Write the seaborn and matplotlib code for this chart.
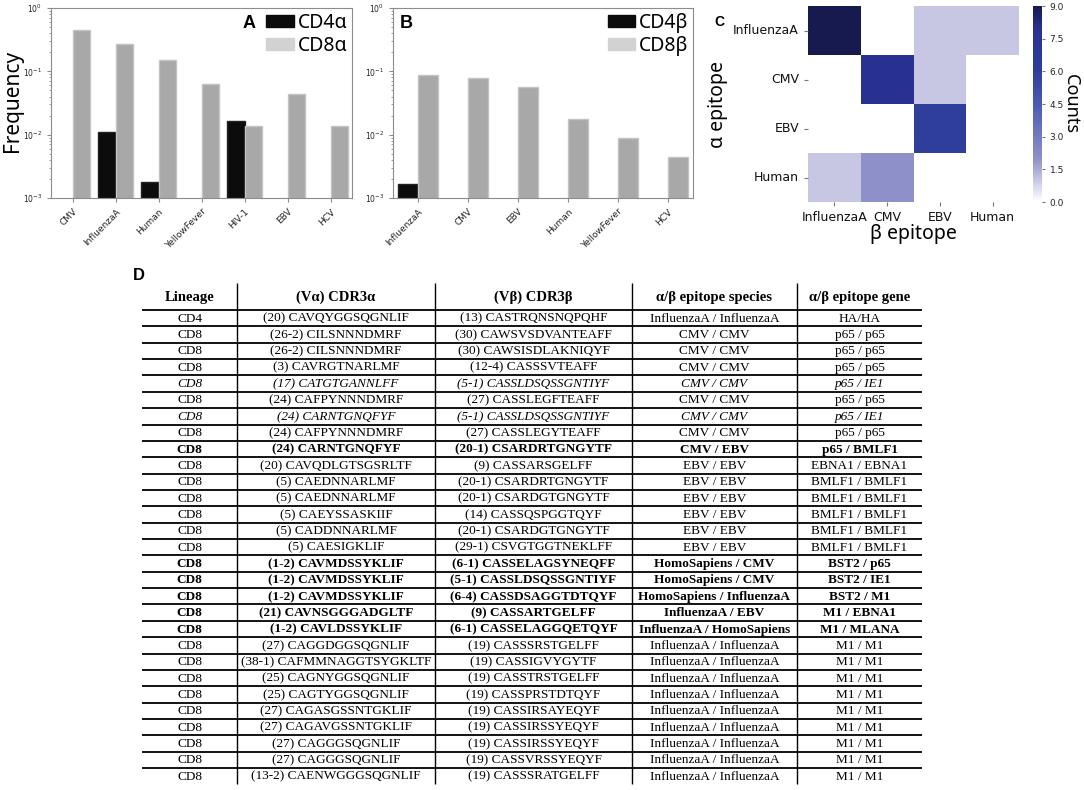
import numpy as np
import pandas as pd
import matplotlib
matplotlib.use('Agg')
import matplotlib.pyplot as plt
from matplotlib.patches import Patch
from matplotlib.colors import LinearSegmentedColormap
import seaborn as sns

nan = np.nan

# panel A: alpha chain epitope species frequencies
species_a = ['CMV', 'InfluenzaA', 'Human', 'YellowFever', 'HIV-1', 'EBV', 'HCV']
cd4_a = [nan, 0.0109, 0.00181, nan, 0.0164, nan, nan]
cd8_a = [0.443, 0.270, 0.153, 0.0624, 0.0136, 0.0444, 0.0136]

# panel B: beta chain epitope species frequencies
species_b = ['InfluenzaA', 'CMV', 'EBV', 'Human', 'YellowFever', 'HCV']
cd4_b = [0.00166, nan, nan, nan, nan, nan]
cd8_b = [0.0875, 0.0785, 0.0566, 0.0177, 0.00885, 0.00438]

# panel C: alpha vs beta epitope counts
epitopes = ['InfluenzaA', 'CMV', 'EBV', 'Human']
counts = [[9, 0, 1, 1],
          [0, 8, 1, 0],
          [0, 0, 6, 0],
          [1, 2, 0, 0]]

# panel D: table
header = ['Lineage', '(V\u03b1) CDR3\u03b1', '(V\u03b2) CDR3\u03b2',
          '\u03b1/\u03b2 epitope species', '\u03b1/\u03b2 epitope gene']
lineage = ['CD4'] + ['CD8'] * 28
cdr3a = ['(20) CAVQYGGSQGNLIF', '(26-2) CILSNNNDMRF', '(26-2) CILSNNNDMRF',
         '(3) CAVRGTNARLMF', '(17) CATGTGANNLFF', '(24) CAFPYNNNDMRF',
         '(24) CARNTGNQFYF', '(24) CAFPYNNNDMRF', '(24) CARNTGNQFYF',
         '(20) CAVQDLGTSGSRLTF', '(5) CAEDNNARLMF', '(5) CAEDNNARLMF',
         '(5) CAEYSSASKIIF', '(5) CADDNNARLMF', '(5) CAESIGKLIF',
         '(1-2) CAVMDSSYKLIF', '(1-2) CAVMDSSYKLIF', '(1-2) CAVMDSSYKLIF',
         '(21) CAVNSGGGADGLTF', '(1-2) CAVLDSSYKLIF', '(27) CAGGDGGSQGNLIF',
         '(38-1) CAFMMNAGGTSYGKLTF', '(25) CAGNYGGSQGNLIF', '(25) CAGTYGGSQGNLIF',
         '(27) CAGASGSSNTGKLIF', '(27) CAGAVGSSNTGKLIF', '(27) CAGGGSQGNLIF',
         '(27) CAGGGSQGNLIF', '(13-2) CAENWGGGSQGNLIF']
cdr3b = ['(13) CASTRQNSNQPQHF', '(30) CAWSVSDVANTEAFF', '(30) CAWSISDLAKNIQYF',
         '(12-4) CASSSVTEAFF', '(5-1) CASSLDSQSSGNTIYF', '(27) CASSLEGFTEAFF',
         '(5-1) CASSLDSQSSGNTIYF', '(27) CASSLEGYTEAFF', '(20-1) CSARDRTGNGYTF',
         '(9) CASSARSGELFF', '(20-1) CSARDRTGNGYTF', '(20-1) CSARDGTGNGYTF',
         '(14) CASSQSPGGTQYF', '(20-1) CSARDGTGNGYTF', '(29-1) CSVGTGGTNEKLFF',
         '(6-1) CASSELAGSYNEQFF', '(5-1) CASSLDSQSSGNTIYF', '(6-4) CASSDSAGGTDTQYF',
         '(9) CASSARTGELFF', '(6-1) CASSELAGGQETQYF', '(19) CASSSRSTGELFF',
         '(19) CASSIGVYGYTF', '(19) CASSTRSTGELFF', '(19) CASSPRSTDTQYF',
         '(19) CASSIRSAYEQYF', '(19) CASSIRSSYEQYF', '(19) CASSIRSSYEQYF',
         '(19) CASSVRSSYEQYF', '(19) CASSSRATGELFF']
ep_species = (['InfluenzaA / InfluenzaA'] + ['CMV / CMV'] * 7 + ['CMV / EBV']
              + ['EBV / EBV'] * 6
              + ['HomoSapiens / CMV', 'HomoSapiens / CMV', 'HomoSapiens / InfluenzaA',
                 'InfluenzaA / EBV', 'InfluenzaA / HomoSapiens']
              + ['InfluenzaA / InfluenzaA'] * 9)
ep_gene = (['HA/HA', 'p65 / p65', 'p65 / p65', 'p65 / p65', 'p65 / IE1', 'p65 / p65',
            'p65 / IE1', 'p65 / p65', 'p65 / BMLF1', 'EBNA1 / EBNA1']
           + ['BMLF1 / BMLF1'] * 5
           + ['BST2 / p65', 'BST2 / IE1', 'BST2 / M1', 'M1 / EBNA1', 'M1 / MLANA']
           + ['M1 / M1'] * 9)
italic_rows = [4, 6]
bold_rows = [8, 15, 16, 17, 18, 19]

W, H = 1084, 790
fig = plt.figure(figsize=(W / 100, H / 100), dpi=100)


def px_axes(x0, y0, x1, y1):
    return fig.add_axes([x0 / W, 1 - y1 / H, (x1 - x0) / W, (y1 - y0) / H])


big_font = 'Noto Sans'

# table first so it sits underneath
axt = px_axes(0, 0, W, H)
axt.set_xlim(0, W)
axt.set_ylim(H, 0)
axt.axis('off')

col_edges = [142, 237, 435, 632, 797, 922]
head_top, head_bot, row_h = 283, 310, 16.36
n_rows = len(lineage)
centers = [(col_edges[i] + col_edges[i + 1]) / 2 for i in range(5)]
for c, lab in zip(centers, header):
    axt.text(c, (head_top + head_bot) / 2 + 1, lab, ha='center', va='center',
             family='Liberation Serif', weight='bold', fontsize=10.5)
for i in range(n_rows):
    y = head_bot + (i + 0.5) * row_h
    kw = dict(ha='center', va='center', family='Liberation Serif', fontsize=9.5)
    if i in italic_rows:
        kw['style'] = 'italic'
    if i in bold_rows:
        kw['weight'] = 'bold'
    row = [lineage[i], cdr3a[i], cdr3b[i], ep_species[i], ep_gene[i]]
    for c, txt in zip(centers, row):
        axt.text(c, y + 0.5, txt, **kw)
axt.hlines([head_bot + i * row_h for i in range(n_rows)], col_edges[0], col_edges[-1],
           color='black', lw=1.3)
axt.vlines(col_edges[1:-1], head_top, head_bot + n_rows * row_h, color='black', lw=1.0)
fig.text(139 / W, 1 - 276 / H, 'D', ha='center', va='center',
         family='Liberation Sans', weight='bold', fontsize=12)


def freq_panel(ax, species, cd4, cd8, labels):
    n = len(species)
    df = pd.DataFrame({'species': species * 2,
                       'lineage': [labels[0]] * n + [labels[1]] * n,
                       'freq': cd4 + cd8})
    sns.barplot(data=df, x='species', y='freq', hue='lineage', hue_order=labels,
                palette=['#0c0c0c', '#a8a8a8'], saturation=1, width=0.8,
                legend=False, ax=ax)
    for cont, ec in zip(ax.containers, ['#222222', '#c4c4c4']):
        for bar in cont:
            bar.set_edgecolor(ec)
            bar.set_linewidth(1)
    ax.set_yscale('log')
    ax.set_ylim(1e-3, 1)
    ax.set_xlim(-0.5, n - 0.5)
    ax.set_xlabel('')
    ax.set_ylabel('')
    for s in ax.spines.values():
        s.set_color('#8c8c8c')
    ax.tick_params(axis='both', which='both', colors='#8c8c8c', labelcolor='#222222')
    ax.tick_params(axis='x', length=3, labelsize=6.5)
    ax.tick_params(axis='y', which='major', length=3, labelsize=5.5)
    ax.tick_params(axis='y', which='minor', length=1.5)
    plt.setp(ax.get_xticklabels(), rotation=45, ha='right', rotation_mode='anchor')
    handles = [Patch(fc='#0c0c0c', ec='#0c0c0c'), Patch(fc='#d2d2d2', ec='#d2d2d2')]
    ax.legend(handles, labels, loc='upper right', frameon=False,
              prop={'family': big_font, 'size': 14}, handlelength=1.4,
              handleheight=0.6, handletextpad=0.2, labelspacing=0.15,
              borderaxespad=0.05, borderpad=0.2)


axa = px_axes(51, 8, 352, 198)
freq_panel(axa, species_a, cd4_a, cd8_a, ['CD4\u03b1', 'CD8\u03b1'])
fig.text(13 / W, 1 - 101 / H, 'Frequency', rotation=90, ha='center', va='center',
         family=big_font, fontsize=15)
axa.text((249 - 51) / 301, 1 - (24 - 8) / 190, 'A', transform=axa.transAxes,
         ha='center', va='center', family='Liberation Sans', weight='bold', fontsize=13)

axb = px_axes(393, 8, 693, 198)
freq_panel(axb, species_b, cd4_b, cd8_b, ['CD4\u03b2', 'CD8\u03b2'])
axb.text((406 - 393) / 300, 1 - (24 - 8) / 190, 'B', transform=axb.transAxes,
         ha='center', va='center', family='Liberation Sans', weight='bold', fontsize=13)

# heatmap
axc = px_axes(808, 6, 1019, 202)
cax = px_axes(1033, 6, 1042, 202)
cmap = LinearSegmentedColormap.from_list('counts', [
    (0.0, '#ffffff'), (0.111, '#c6c6e4'), (0.222, '#8d8fc9'), (0.5, '#4a5cb2'),
    (0.667, '#2f3e9b'), (0.889, '#283190'), (1.0, '#171a4e')])
cdf = pd.DataFrame(counts, index=epitopes, columns=epitopes)
sns.heatmap(cdf, mask=cdf == 0, cmap=cmap, vmin=0, vmax=9, ax=axc, cbar_ax=cax,
            cbar_kws={'ticks': np.arange(0, 9.1, 1.5), 'format': '%.1f'})
axc.tick_params(axis='both', labelsize=9, length=3, colors='#777777',
                labelcolor='#111111')
axc.tick_params(axis='y', rotation=0)
axc.set_xlabel('\u03b2 epitope', family=big_font, fontsize=14, labelpad=0)
axc.set_ylabel('\u03b1 epitope', family=big_font, fontsize=14, labelpad=4)
cax.tick_params(labelsize=6.5, length=2, colors='#777777', labelcolor='#222222')
fig.text(1071 / W, 1 - 104 / H, 'Counts', rotation=270, ha='center', va='center',
         family=big_font, fontsize=13)
fig.text(719 / W, 1 - 22 / H, 'C', ha='center', va='center',
         family='Liberation Sans', weight='bold', fontsize=10)

fig.savefig('out.png', dpi=100)
